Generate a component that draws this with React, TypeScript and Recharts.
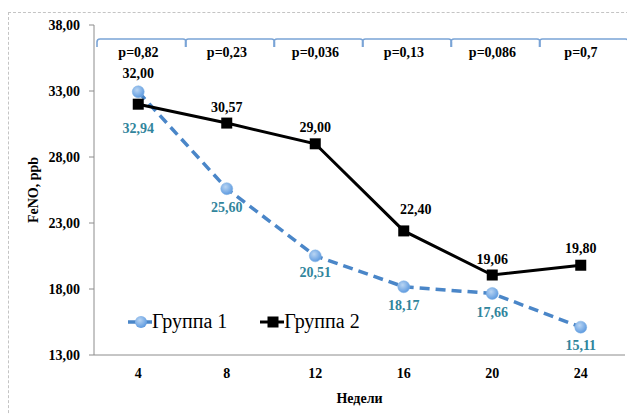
import React from "react";
import {
  ComposedChart, Line, Bar, XAxis, YAxis, Legend, LabelList,
} from "recharts";

const weeks = ["4", "8", "12", "16", "20", "24"];
const group1 = [32.94, 25.6, 20.51, 18.17, 17.66, 15.11];
const group2 = [32.0, 30.57, 29.0, 22.4, 19.06, 19.8];
const pValues = ["p=0,82", "p=0,23", "p=0,036", "p=0,13", "p=0,086", "p=0,7"];
const yTicks = [13, 18, 23, 28, 33, 38];

// bracket row across the top of the plot
const BRACKET_TOP = 36.94;
const Y_MIN = 13;

// label nudges (px) so the values sit where the original puts them
const g1LabelDy = [37, 19, 17, 19, 19, 18];
const g2LabelDy = [-31, -16, -16, -21, -16, -17];
const g2LabelDx = [0, 0, 0, 12, 0, 0];

const data = weeks.map((w, i) => ({
  week: w,
  g1: group1[i],
  g2: group2[i],
  p: pValues[i],
  band: [Y_MIN, BRACKET_TOP],
}));

const SERIF = '"Liberation Serif", "Times New Roman", serif';
const BLUE = "#4A86C8";
const TEAL = "#31859C";
const AXIS = "#8c8c8c";

const fmt = (v: number) => v.toFixed(2).replace(".", ",");

const BandShape = (props: any) => {
  const { x, y, width, height, index } = props;
  const bottom = y + height;
  const last = index === weeks.length - 1;
  const bx0 = x + 3;
  const bx1 = x + width + 3;
  return (
    <g>
      <path
        d={`M${bx0},${y + 8} L${bx0},${y + 3} Q${bx0},${y} ${bx0 + 3},${y} L${bx1 - 3},${y} Q${bx1},${y} ${bx1},${y + 3} L${bx1},${y + 8}`}
        fill="none"
        stroke="#7aa4d6"
        strokeWidth={1.6}
      />
      <text
        x={x + width / 2}
        y={y + 14}
        textAnchor="middle"
        dominantBaseline="central"
        fontFamily={SERIF}
        fontWeight="bold"
        fontSize={14}
        fill="#000"
      >
        {pValues[index]}
      </text>
      {index === 0 && (
        <line x1={x} y1={bottom} x2={x} y2={bottom + 52} stroke={AXIS} strokeWidth={1} />
      )}
      <line
        x1={x + width}
        y1={bottom}
        x2={x + width}
        y2={bottom + (last ? 52 : 25)}
        stroke={last ? AXIS : "#d9d9d9"}
        strokeWidth={1}
      />
    </g>
  );
};

const CircleDot = (props: any) => {
  const { cx, cy } = props;
  if (cx == null || cy == null) return <g />;
  return <circle cx={cx} cy={cy} r={6} fill="url(#g1dot)" stroke="#7fb0e3" strokeWidth={0.5} />;
};

const SquareDot = (props: any) => {
  const { cx, cy } = props;
  if (cx == null || cy == null) return <g />;
  return <rect x={cx - 5.5} y={cy - 5.5} width={11} height={11} fill="#000" />;
};

const g1Label = (props: any) => {
  const { x, y, index, value } = props;
  return (
    <text
      x={x}
      y={y + g1LabelDy[index]}
      textAnchor="middle"
      dominantBaseline="central"
      fontFamily={SERIF}
      fontWeight="bold"
      fontSize={14}
      fill={TEAL}
    >
      {fmt(value)}
    </text>
  );
};

const g2Label = (props: any) => {
  const { x, y, index, value } = props;
  return (
    <text
      x={x + g2LabelDx[index]}
      y={y + g2LabelDy[index]}
      textAnchor="middle"
      dominantBaseline="central"
      fontFamily={SERIF}
      fontWeight="bold"
      fontSize={14}
      fill="#000"
    >
      {fmt(value)}
    </text>
  );
};

const XTick = (props: any) => {
  const { x, y, payload } = props;
  return (
    <text
      x={x}
      y={y + 18}
      textAnchor="middle"
      dominantBaseline="central"
      fontFamily={SERIF}
      fontWeight="bold"
      fontSize={14}
      fill="#000"
    >
      {payload.value}
    </text>
  );
};

const renderLegend = () => (
  <div style={{ display: "flex", alignItems: "center", fontFamily: SERIF, fontSize: 20, color: "#000", whiteSpace: "nowrap" }}>
    <svg width={24} height={14}>
      <line x1={0} y1={7} x2={24} y2={7} stroke={BLUE} strokeWidth={3.5} />
      <circle cx={13} cy={7} r={6} fill="url(#g1dot)" />
    </svg>
    <span>Группа 1</span>
    <span style={{ display: "inline-block", width: 33 }} />
    <svg width={24} height={14}>
      <line x1={0} y1={7} x2={24} y2={7} stroke="#000" strokeWidth={3} />
      <rect x={7.5} y={1.5} width={11} height={11} fill="#000" />
    </svg>
    <span>Группа 2</span>
  </div>
);

export default function App() {
  return (
    <div style={{ position: "relative", width: 627, height: 406 }}>
      <div
        style={{
          position: "absolute",
          left: 0,
          top: 4,
          width: 640,
          height: 420,
          borderTop: "1px dashed #c4c4c4",
          borderLeft: "1px dashed #c4c4c4",
        }}
      />
      <ComposedChart
        width={627}
        height={406}
        data={data}
        margin={{ top: 17, right: 10, bottom: 9, left: 14 }}
        barCategoryGap={0}
        barGap={0}
        style={{ position: "absolute", left: 0, top: 0 }}
      >
        <defs>
          <radialGradient id="g1dot" cx="40%" cy="35%" r="65%">
            <stop offset="0%" stopColor="#b9d5f3" />
            <stop offset="100%" stopColor="#5f9be0" />
          </radialGradient>
        </defs>
        <XAxis
          dataKey="week"
          height={50}
          tickSize={0}
          tickMargin={0}
          tickLine={false}
          axisLine={{ stroke: AXIS }}
          tick={<XTick />}
          interval={0}
          label={{
            content: (p: any) => (
              <text
                x={p.viewBox.x + p.viewBox.width / 2}
                y={p.viewBox.y + 43}
                textAnchor="middle"
                dominantBaseline="central"
                fontFamily={SERIF}
                fontWeight="bold"
                fontSize={14}
                fill="#000"
              >
                Недели
              </text>
            ),
          }}
        />
        <YAxis
          width={72}
          domain={[13, 38]}
          ticks={yTicks}
          allowDataOverflow
          tickFormatter={fmt}
          tickSize={5}
          tickMargin={9}
          tickLine={{ stroke: AXIS }}
          axisLine={{ stroke: AXIS }}
          tick={{ fontFamily: SERIF, fontWeight: "bold", fontSize: 14, fill: "#000" }}
          label={{
            content: (p: any) => {
              const cx = p.viewBox.x + 11;
              const cy = p.viewBox.y + p.viewBox.height / 2;
              return (
                <text
                  x={cx}
                  y={cy}
                  transform={`rotate(-90 ${cx} ${cy})`}
                  textAnchor="middle"
                  dominantBaseline="central"
                  fontFamily={SERIF}
                  fontWeight="bold"
                  fontSize={14}
                  fill="#000"
                >
                  FeNO, ppb
                </text>
              );
            },
          }}
        />
        <Legend
          layout="horizontal"
          verticalAlign="middle"
          align="center"
          content={renderLegend}
          wrapperStyle={{ left: 120, top: 302, width: "auto" }}
        />
        <Bar dataKey="band" shape={<BandShape />} isAnimationActive={false} legendType="none" />
        <Line
          type="linear"
          dataKey="g1"
          name="Группа 1"
          stroke={BLUE}
          strokeWidth={3.5}
          strokeDasharray="10 6"
          dot={<CircleDot />}
          activeDot={false}
          isAnimationActive={false}
        >
          <LabelList dataKey="g1" content={g1Label} />
        </Line>
        <Line
          type="linear"
          dataKey="g2"
          name="Группа 2"
          stroke="#000"
          strokeWidth={3}
          dot={<SquareDot />}
          activeDot={false}
          isAnimationActive={false}
        >
          <LabelList dataKey="g2" content={g2Label} />
        </Line>
      </ComposedChart>
    </div>
  );
}
